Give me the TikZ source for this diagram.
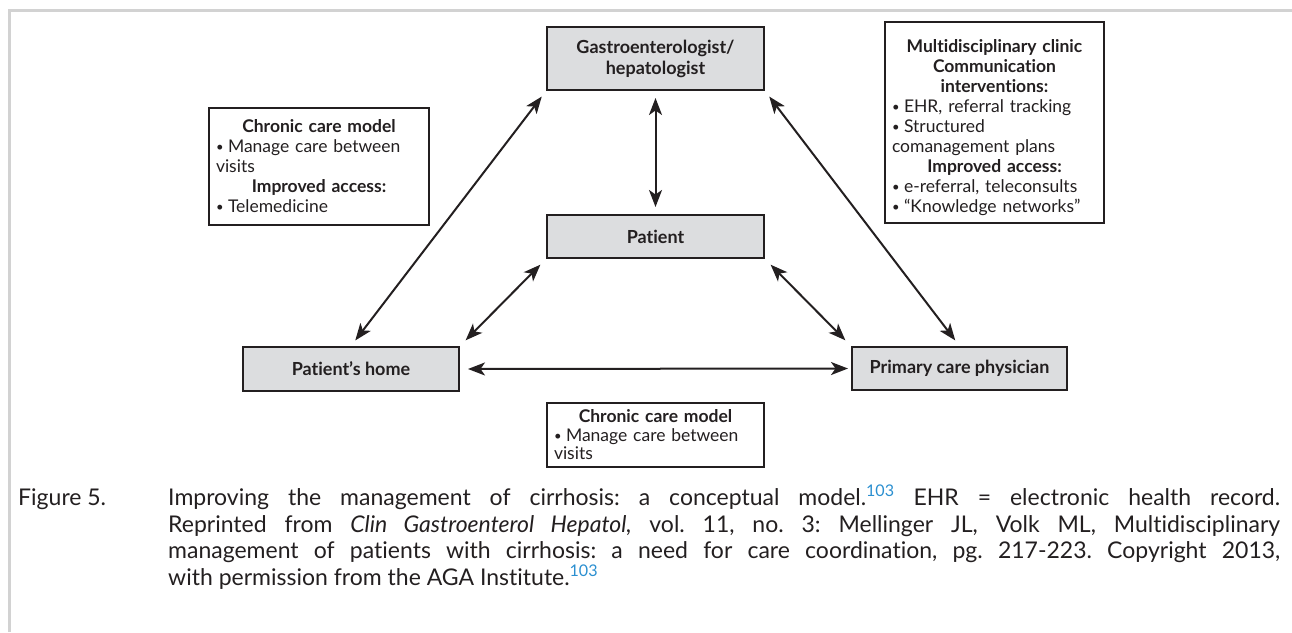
\documentclass[tikz,border=0pt]{standalone}
\usepackage{fontspec}
\setmainfont{Lato}[Ligatures=NoCommon]
\usetikzlibrary{arrows.meta}
\definecolor{ink}{HTML}{231F20}
\definecolor{boxgray}{HTML}{DCDDDF}
\definecolor{framegray}{HTML}{D2D2D2}
\definecolor{refblue}{HTML}{2B8FD0}
\newcommand\hd[1]{{\centering\bfseries #1\par}}
\newcommand\bul[1]{{\raggedright\hangindent=12pt\hangafter=1\noindent\makebox[12pt][l]{\raisebox{1pt}{\fontsize{13}{13}\selectfont\textbullet}}#1\par}}
\newcommand\refnum[1]{{\color{refblue}\textsuperscript{#1}}}
\begin{document}
\begin{tikzpicture}[x=1pt,y=-1pt,
  actor/.style={draw=ink, fill=boxgray, line width=2pt, inner sep=0pt,
    text=ink, align=center, font=\fontsize{18}{21}\selectfont\bfseries},
  note/.style={draw=ink, fill=white, line width=2pt, inner xsep=7pt, inner ysep=0pt,
    text=ink, font=\fontsize{17.5}{20}\selectfont},
  tip/.tip={Stealth[length=17pt,width=13pt,inset=4.5pt]},
  link/.style={draw=ink, line width=2pt, tip-tip, shorten <=7pt, shorten >=7pt}
]
\useasboundingbox (0,0) rectangle (1292,632);
\draw[framegray, line width=2.7pt] (9.7,632) -- (9.7,10.3) -- (1292,10.3);

% main actors
\node[actor, minimum width=217pt, minimum height=63pt] (gastro) at (655.5,58.5)
  {Gastroenterologist/\\hepatologist};
\node[actor, minimum width=217pt, minimum height=43pt] (patient) at (655.5,236.5) {Patient};
\node[actor, minimum width=216pt, minimum height=44pt] (home) at (351,369) {Patient’s home};
\node[actor, minimum width=215pt, minimum height=43pt] (pcp) at (959.5,368.5) {Primary care physician};

% notes
\node[note, text width=206pt, minimum height=117pt] (lnote) at (319,166) {%
  \hd{Chronic care model}
  \bul{Manage care between\\visits}
  \hd{Improved access:}
  \bul{Telemedicine}};
\node[note, text width=205pt, minimum height=201pt] (rnote) at (994.5,122.5) {%
  \par\vspace*{4pt}
  \hd{Multidisciplinary clinic}
  \hd{Communication\\interventions:}
  \bul{EHR, referral tracking}
  \bul{Structured\\comanagement plans}
  \hd{Improved access:}
  \bul{e-referral, teleconsults}
  \bul{“Knowledge networks”}};
\node[note, text width=203pt, minimum height=64pt, font=\fontsize{17.5}{18.5}\selectfont] (bnote) at (655.5,435) {%
  \hd{Chronic care model}
  \bul{Manage care between\\visits}};

% connectors
\draw[link] (gastro) -- (patient);
\draw[link] (gastro.south west) -- (home.north);
\draw[link] (gastro.south east) -- (pcp.north);
\draw[link, shorten <=8pt, shorten >=8pt] (patient.south west) -- (home.north east);
\draw[link, shorten <=8pt, shorten >=8pt] (patient.south east) -- (pcp.north west);
\draw[link, shorten <=8pt, shorten >=3pt] (home.east) -- (pcp.west);

% caption
\node[anchor=north west, inner sep=0pt, text width=1262pt, align=justify, text=ink,
  font=\fontsize{23}{26.5}\selectfont] (caption) at (18,485) {%
  \frenchspacing
  \hangindent=150pt\hangafter=1\noindent\makebox[150pt][l]{Figure 5.}Improving the management of cirrhosis: a conceptual model.\refnum{103} EHR = electronic health record.\linebreak
  Reprinted from \textit{Clin Gastroenterol Hepatol,} vol. 11, no. 3: Mellinger JL, Volk ML, Multidisciplinary\linebreak
  management of patients with cirrhosis: a need for care coordination, pg. 217-223. Copyright 2013,\linebreak
  with permission from the AGA Institute.\refnum{103}\par};
\end{tikzpicture}
\end{document}
